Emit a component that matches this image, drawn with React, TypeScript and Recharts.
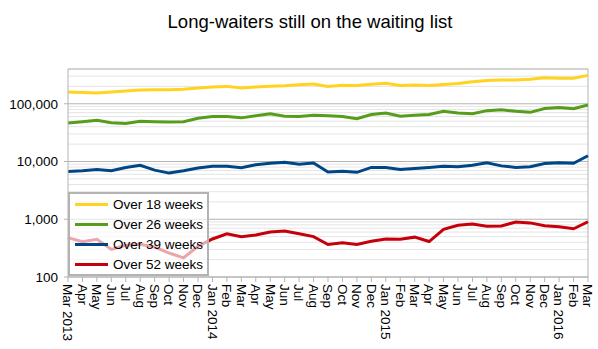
import React from 'react';
import { LineChart, Line, XAxis, YAxis, CartesianGrid, ReferenceLine, Legend } from 'recharts';

// months along the x axis (Mar 2013 .. Mar 2016)
const months = [
  'Mar 2013', 'Apr', 'May', 'Jun', 'Jul', 'Aug', 'Sep', 'Oct', 'Nov', 'Dec',
  'Jan 2014', 'Feb', 'Mar', 'Apr', 'May', 'Jun', 'Jul', 'Aug', 'Sep', 'Oct', 'Nov', 'Dec',
  'Jan 2015', 'Feb', 'Mar', 'Apr', 'May', 'Jun', 'Jul', 'Aug', 'Sep', 'Oct', 'Nov', 'Dec',
  'Jan 2016', 'Feb', 'Mar',
];

const over18 = [
  160000, 157000, 153000, 160000, 167000, 173000, 175000, 175000, 179000, 188000,
  195000, 200000, 188000, 196000, 201000, 206000, 214000, 220000, 200000, 209000, 208000, 218000,
  226000, 208000, 211000, 208000, 216000, 225000, 241000, 254000, 257000, 257000, 265000, 283000,
  276000, 276000, 310000,
];

const over26 = [
  46500, 49000, 52000, 47000, 45500, 50000, 49000, 48500, 49000, 56000,
  60000, 60000, 57000, 62000, 67000, 61000, 60000, 63000, 62000, 60000, 55000, 65000,
  69000, 61000, 63000, 65000, 74000, 69000, 67000, 76000, 79000, 74000, 71000, 83000,
  86000, 82000, 95000,
];

const over39 = [
  6700, 6900, 7300, 6900, 7900, 8600, 7100, 6300, 6900, 7700,
  8300, 8300, 7800, 8800, 9300, 9700, 9000, 9400, 6600, 6800, 6500, 7900,
  7900, 7300, 7600, 7900, 8300, 8100, 8600, 9500, 8400, 7900, 8100, 9200,
  9500, 9300, 12600,
];

const over52 = [
  480, 410, 450, 300, 355, 370, 330, 260, 215, 340,
  455, 560, 500, 535, 600, 625, 560, 500, 365, 390, 365, 415,
  455, 450, 490, 411, 670, 785, 825, 760, 765, 895, 865, 770,
  740, 685, 905,
];

const yTicks = [100, 1000, 10000, 100000];
const minorTicks = [
  200, 300, 400, 500, 600, 700, 800, 900,
  2000, 3000, 4000, 5000, 6000, 7000, 8000, 9000,
  20000, 30000, 40000, 50000, 60000, 70000, 80000, 90000,
  200000, 300000, 400000,
];

const series = [
  { key: 'over18', name: 'Over 18 weeks', color: '#ffd320' },
  { key: 'over26', name: 'Over 26 weeks', color: '#579d1c' },
  { key: 'over39', name: 'Over 39 weeks', color: '#004586' },
  { key: 'over52', name: 'Over 52 weeks', color: '#c5000b' },
];

const data = months.map((m, i) => ({
  idx: i,
  over18: over18[i],
  over26: over26[i],
  over39: over39[i],
  over52: over52[i],
}));

const FONT = '"Liberation Sans", Arial, sans-serif';
const Y_MIN = 100;
const Y_MAX = 400000;

const MonthTick = (props: any) => {
  const { x, y, payload } = props;
  return (
    <text
      x={x}
      y={y}
      dy="0.35em"
      transform={`rotate(90, ${x}, ${y})`}
      textAnchor="start"
      fontSize={13.5}
      fontFamily={FONT}
      fill="#000"
    >
      {months[payload.value]}
    </text>
  );
};

const LegendBox = (props: any) => {
  const payload = props.payload || [];
  return (
    <div
      style={{
        width: 137,
        height: 80,
        border: '2px solid #b3b3b3',
        background: 'rgba(255,255,255,0.65)',
        fontFamily: FONT,
        fontSize: 13.5,
        color: '#000',
        boxSizing: 'content-box',
      }}
    >
      {payload.map((p: any) => (
        <div key={p.value} style={{ height: 20, display: 'flex', alignItems: 'center' }}>
          <div style={{ width: 33, height: 3, background: p.color, marginLeft: 5, marginRight: 5 }} />
          <span style={{ whiteSpace: 'nowrap' }}>{p.value}</span>
        </div>
      ))}
    </div>
  );
};

const minorLines = ({ yAxis, offset }: any) =>
  minorTicks.map((v) => {
    if (yAxis && typeof yAxis.scale === 'function') return yAxis.scale(v);
    const t = (Math.log10(v) - Math.log10(Y_MIN)) / (Math.log10(Y_MAX) - Math.log10(Y_MIN));
    return offset.top + offset.height * (1 - t);
  });

export default function App() {
  return (
    <div style={{ position: 'absolute', left: 0, top: 0, width: 598, height: 349, background: '#fff', fontFamily: FONT }}>
      <div
        style={{
          position: 'absolute',
          left: 0,
          top: 12.5,
          width: 620,
          textAlign: 'center',
          fontSize: 18.5,
          lineHeight: 1,
          color: '#000',
        }}
      >
        Long-waiters still on the waiting list
      </div>
      <LineChart width={598} height={349} data={data} margin={{ top: 69, right: 10, bottom: 0, left: 0 }}>
        <CartesianGrid vertical={false} stroke="#e4e4e4" horizontalCoordinatesGenerator={minorLines} />
        <CartesianGrid vertical={false} stroke="#b3b3b3" />
        <XAxis
          dataKey="idx"
          type="number"
          domain={[0, months.length - 1]}
          ticks={months.map((_, i) => i)}
          interval={0}
          height={72}
          tickSize={5}
          tick={<MonthTick />}
          axisLine={{ stroke: '#b3b3b3' }}
          tickLine={{ stroke: '#b3b3b3' }}
        />
        <YAxis
          scale="log"
          type="number"
          domain={[Y_MIN, Y_MAX]}
          allowDataOverflow
          ticks={yTicks}
          width={68}
          tickSize={4}
          tickMargin={6}
          tickFormatter={(v: number) => v.toLocaleString('en-US')}
          tick={{ fill: '#000', fontSize: 13.5, fontFamily: FONT }}
          axisLine={{ stroke: '#b3b3b3' }}
          tickLine={{ stroke: '#b3b3b3' }}
        />
        <ReferenceLine x={months.length - 1} stroke="#b3b3b3" />
        {series.map((s) => (
          <Line
            key={s.key}
            type="linear"
            dataKey={s.key}
            name={s.name}
            stroke={s.color}
            strokeWidth={3}
            dot={false}
            isAnimationActive={false}
          />
        ))}
        <Legend
          layout="vertical"
          verticalAlign="middle"
          align="center"
          content={<LegendBox />}
          wrapperStyle={{ left: 68, top: 192, width: 141, height: 84 }}
        />
      </LineChart>
    </div>
  );
}
